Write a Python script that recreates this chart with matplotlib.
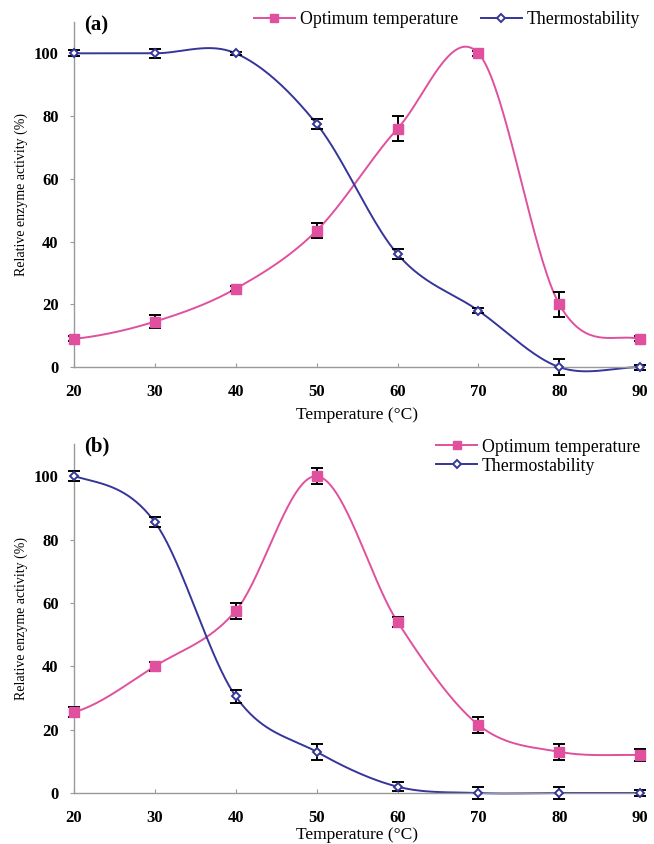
import matplotlib
matplotlib.use("Agg")
import matplotlib.pyplot as plt
import numpy as np

plt.rcParams['font.family'] = ['Liberation Serif', 'DejaVu Serif']

temps = [20, 30, 40, 50, 60, 70, 80, 90]

# panel (a)
opt_a = [9, 14.5, 25, 43.5, 76, 100, 20, 9]
opt_a_err = [0.8, 2, 0.8, 2.5, 4, 0.8, 4, 0.8]
thermo_a = [100, 100, 100, 77.5, 36, 18, 0, 0]
thermo_a_err = [1, 1.5, 0.5, 1.5, 1.5, 0.8, 2.5, 0.8]

# panel (b)
opt_b = [25.5, 40, 57.5, 100, 54, 21.5, 13, 12]
opt_b_err = [1.5, 1.5, 2.5, 2.5, 1.5, 2.5, 2.5, 2]
thermo_b = [100, 85.5, 30.5, 13, 2, 0, 0, 0]
thermo_b_err = [1.5, 1.5, 2, 2.5, 1.5, 2, 2, 1]

PINK = '#E0509E'
NAVY = '#35359A'


def smooth(x, y, n=40):
    # Catmull-Rom style smoothing, similar to spreadsheet "smoothed line"
    x = np.asarray(x, float)
    y = np.asarray(y, float)
    m = np.zeros_like(y)
    m[1:-1] = (y[2:] - y[:-2]) / (x[2:] - x[:-2])
    m[0] = (y[1] - y[0]) / (x[1] - x[0]) * 0.5
    m[-1] = (y[-1] - y[-2]) / (x[-1] - x[-2]) * 0.5
    xs, ys = [], []
    for i in range(len(x) - 1):
        h = x[i + 1] - x[i]
        t = np.linspace(0, 1, n)
        h00 = 2 * t**3 - 3 * t**2 + 1
        h10 = t**3 - 2 * t**2 + t
        h01 = -2 * t**3 + 3 * t**2
        h11 = t**3 - t**2
        xs.append(x[i] + t * h)
        ys.append(h00 * y[i] + h10 * h * m[i] + h01 * y[i + 1] + h11 * h * m[i + 1])
    return np.concatenate(xs), np.concatenate(ys)


def panel(ax, opt, opt_err, th, th_err, tag, tag_y, xlabelpad, legend_kw):
    sx, sy = smooth(temps, opt)
    ax.plot(sx, sy, color=PINK, lw=1.4, zorder=2)
    sx, sy = smooth(temps, th)
    ax.plot(sx, sy, color=NAVY, lw=1.4, zorder=2)
    ax.errorbar(temps, opt, yerr=opt_err, fmt='none', ecolor='black',
                elinewidth=1.4, capsize=4.5, capthick=1.4, zorder=3)
    ax.errorbar(temps, th, yerr=th_err, fmt='none', ecolor='black',
                elinewidth=1.4, capsize=4.5, capthick=1.4, zorder=3)
    ax.plot(temps, opt, ls='none', marker='s', ms=6.5, color=PINK, zorder=4)
    ax.plot(temps, th, ls='none', marker='D', ms=4, mfc='white', mec=NAVY,
            mew=1.4, zorder=4)
    h1, = ax.plot([], [], color=PINK, lw=1.4, marker='s', ms=6,
                  label='Optimum temperature')
    h2, = ax.plot([], [], color=NAVY, lw=1.4, marker='D', ms=4, mfc='white',
                  mec=NAVY, mew=1.4, label='Thermostability')
    ax.legend(handles=[h1, h2], frameon=False, fontsize=12.8,
              handlelength=2.3, handletextpad=0.28, borderaxespad=0,
              borderpad=0, **legend_kw)

    ax.set_xlim(20, 90)
    ax.set_ylim(0, 110)
    ax.set_xticks(temps)
    ax.set_yticks([0, 20, 40, 60, 80, 100])
    for s in ['top', 'right']:
        ax.spines[s].set_visible(False)
    for s in ['left', 'bottom']:
        ax.spines[s].set_color('#999999')
        ax.spines[s].set_linewidth(1.0)
    ax.tick_params(axis='x', direction='in', length=3, color='#999999',
                   labelsize=12, pad=12)
    ax.tick_params(axis='y', direction='out', length=3, color='#999999',
                   labelsize=12, pad=8)
    ax.set_xlabel('Temperature (\u00b0C)', fontsize=12.5, labelpad=xlabelpad)
    ax.set_ylabel('Relative enzyme activity (%)', fontsize=10, labelpad=4)
    ax.text(0.04, tag_y, tag, transform=ax.transAxes, fontsize=15,
            fontweight='bold', va='center', ha='center')
    for lbl in ax.get_xticklabels() + ax.get_yticklabels():
        lbl.set_fontweight('bold')


fig = plt.figure(figsize=(6.54, 8.44), dpi=100)
ax1 = fig.add_axes([0.113, 0.565, 0.866, 0.409])
ax2 = fig.add_axes([0.113, 0.0604, 0.866, 0.413])

panel(ax1, opt_a, opt_a_err, thermo_a, thermo_a_err, '(a)', 0.99, 5,
      dict(loc='center right', bbox_to_anchor=(1.0, 1.006), ncol=2,
           columnspacing=1.3))
panel(ax2, opt_b, opt_b_err, thermo_b, thermo_b_err, '(b)', 0.995, 1,
      dict(loc='upper right', bbox_to_anchor=(1.0, 1.017), ncol=1,
           labelspacing=0.12))

for ax in (ax1, ax2):
    for art in ax.lines + ax.collections:
        art.set_clip_on(False)

fig.savefig('out.png', dpi=100)
